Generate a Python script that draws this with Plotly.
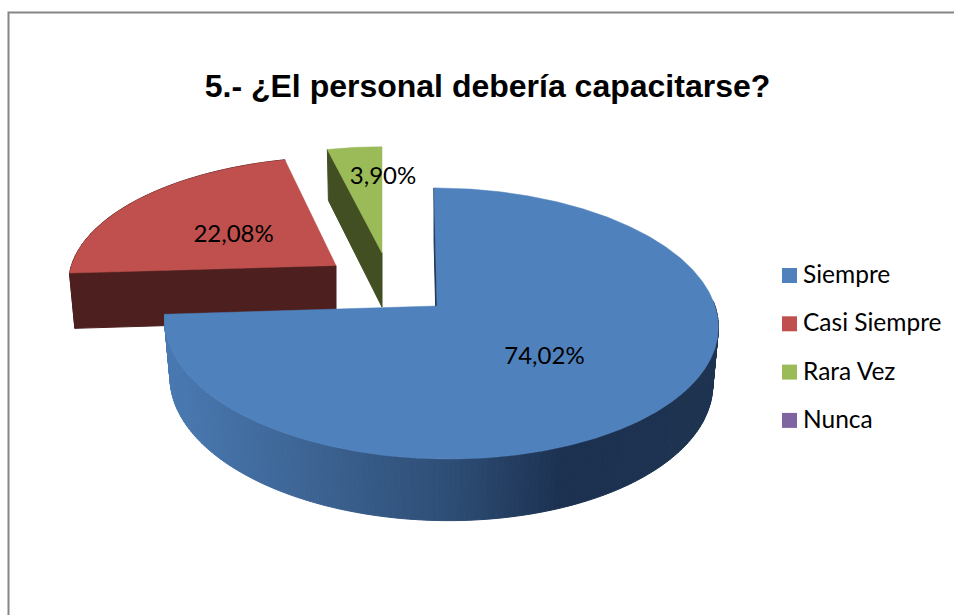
import numpy as np
import plotly.graph_objects as go

# ---- data ----
TITLE = "5.- ¿El personal debería capacitarse?"
categories = ["Siempre", "Casi Siempre", "Rara Vez", "Nunca"]
values = [74.02, 22.08, 3.90, 0.0]

# ---- styles ----
top_colors = ["#4f81bd", "#c0504d", "#9bbb59", "#8064a2"]
wall_colors = ["#1e3450", "#4d1f1e", "#414f22", "#403152"]
LABEL_FONT = "Lato"
W, H = 954, 615
# per slice 3-D look: apex, x scale, y scale, depth, shear, apex shift, wall height, label radius, label nudge
geom = {
    0: dict(ax=437, ay=306, R=274.5, S=133.3, k=0.129, s=0.055, d=3.5, h=57, lr=0.48, nx=3, ny=6),
    1: dict(ax=336, ay=265.5, R=268, S=122.6, k=0.129, s=-0.03, d=3.4, h=55, lr=0.5, nx=-1, ny=5),
    2: dict(ax=382, ay=253, R=254, S=120, k=0.129, s=0.03, d=3.2, h=54, lr=0.7, nx=21, ny=2),
}
FX, FY = 0.98, 1.03
# gradient of the front wall, by horizontal position
grad_x = [165, 300, 450, 565, 720]
grad_rgb = [(74, 122, 179), (62, 102, 150), (46, 78, 118), (28, 49, 80), (30, 52, 80)]
# legend layout
LEG_SWATCH_X, LEG_TEXT_X, LEG_Y0, LEG_DY, LEG_TEXT_DY = 789.5, 803, 275.5, 48.3, 1.5


def project(g, ang_deg, r=1.0, lower=False):
    a = np.radians(ang_deg)
    u, v = r * np.sin(a), r * np.cos(a)
    w = 1 + g["k"] * v
    dy = -g["S"] * v / w
    dx = g["d"] * r + g["R"] * u / w + g["s"] * dy
    if lower:
        dx, dy = dx * FX, dy * FY + g["h"]
    return g["ax"] + dx, g["ay"] + dy


def wedge(g, a0, a1):
    angs = np.linspace(a0, a1, max(3, int(abs(a1 - a0) * 2)))
    xs, ys = project(g, angs)
    ax, ay = project(g, 0.0, 0.0)
    return [ax, *xs, ax], [ay, *ys, ay]


def quad(g, a0, a1):
    x0, y0 = project(g, a0)
    x1, y1 = project(g, a1)
    x2, y2 = project(g, a1, lower=True)
    x3, y3 = project(g, a0, lower=True)
    return [x0, x1, x2, x3, x0], [y0, y1, y2, y3, y0]


def radial_wall(g, a):
    x0, y0 = project(g, 0.0, 0.0)
    x1, y1 = project(g, a)
    x2, y2 = project(g, a, lower=True)
    x3, y3 = project(g, 0.0, 0.0, lower=True)
    return [x0, x1, x2, x3, x0], [y0, y1, y2, y3, y0]


def poly(x, y, color, width=1.0):
    return go.Scatter(x=x, y=y, mode="lines", fill="toself", fillcolor=color,
                      line=dict(color=color, width=width), showlegend=False, hoverinfo="skip")


def grad_color(x):
    return "rgb(%d,%d,%d)" % tuple(np.interp(x, grad_x, [c[i] for c in grad_rgb]) for i in range(3))


cum = np.cumsum([0.0] + values) / sum(values) * 360
fig = go.Figure()

# back to front: green, red, blue
for i in (2, 1, 0):
    if values[i] <= 0:
        continue
    g = geom[i]
    a0, a1 = cum[i], cum[i + 1]
    fig.add_trace(poly(*radial_wall(g, a0), wall_colors[i]))
    if i == 0:
        edges = np.arange(88, a1, 1.0).tolist() + [a1]
        for b0, b1 in zip(edges[:-1], edges[1:]):
            qx, qy = quad(g, b0, b1)
            fig.add_trace(poly(qx, qy, grad_color(np.mean(qx))))
    elif i == 1:
        edges = np.linspace(a0, a1, 30)
        for b0, b1 in zip(edges[:-1], edges[1:]):
            fig.add_trace(poly(*quad(g, b0, b1), wall_colors[i]))
    fig.add_trace(poly(*wedge(g, a0, a1), top_colors[i], width=0.5))

# data labels
lab_x, lab_y, lab_t = [], [], []
for i in range(3):
    g = geom[i]
    x, y = project(g, (cum[i] + cum[i + 1]) / 2, g["lr"])
    lab_x.append(x + g["nx"])
    lab_y.append(y + g["ny"])
    lab_t.append(f"{values[i]:.2f}".replace(".", ",") + "%")
fig.add_trace(go.Scatter(x=lab_x, y=lab_y, text=lab_t, mode="text", textposition="middle center",
                         textfont=dict(family=LABEL_FONT, size=24, color="#000000"),
                         showlegend=False, hoverinfo="skip"))

# legend: swatch and text, one row per category
for n, (name, col) in enumerate(zip(categories, top_colors)):
    y = LEG_Y0 + LEG_DY * n
    fig.add_trace(go.Scatter(x=[LEG_SWATCH_X], y=[y], mode="markers", name=name, showlegend=False,
                             hoverinfo="skip",
                             marker=dict(symbol="square", size=15, color=col, line=dict(width=0))))
    fig.add_trace(go.Scatter(x=[LEG_TEXT_X], y=[y + LEG_TEXT_DY], mode="text", text=[name], name=name,
                             showlegend=False, hoverinfo="skip", textposition="middle right",
                             textfont=dict(family=LABEL_FONT, size=24.5, color="#000000")))

fig.update_layout(
    width=W, height=H, autosize=False, margin=dict(l=0, r=0, t=0, b=0),
    paper_bgcolor="white", plot_bgcolor="white", hovermode=False, showlegend=False,
    title=dict(text=f"<b>{TITLE}</b>", x=487.5 / W, xanchor="center", y=1 - 86 / H, yanchor="middle",
               font=dict(family="Liberation Sans", size=32, color="#000000")),
    xaxis=dict(range=[0, W], visible=False, fixedrange=True),
    yaxis=dict(range=[H, 0], visible=False, fixedrange=True),
    shapes=[dict(type="rect", xref="x", yref="y", x0=8.5, y0=12.5, x1=W + 10, y1=H + 10,
                 line=dict(color="#868686", width=2), fillcolor="rgba(0,0,0,0)", layer="below")],
)
fig.write_html("out.html", config=dict(displayModeBar=False),
               post_script="document.body.style.margin='0';document.body.style.overflow='hidden';")
